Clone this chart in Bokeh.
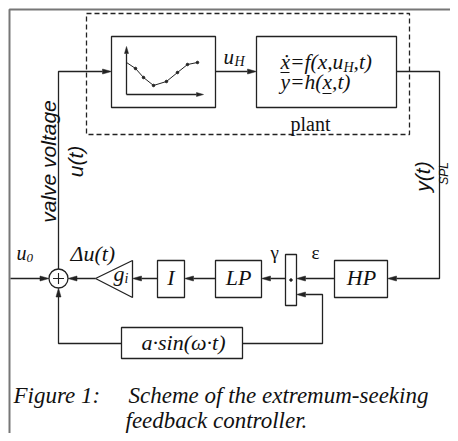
import math
from bokeh.plotting import figure
from bokeh.models import Range1d
from bokeh.core.properties import value
from bokeh.embed import file_html
from bokeh.resources import INLINE

# ---- data: characteristic map drawn in the first block (relative units) ----
map_x = [0.0, 0.117, 0.221, 0.351, 0.519, 0.662, 0.792, 0.922]
map_y = [0.667, 0.542, 0.354, 0.188, 0.271, 0.458, 0.625, 0.667]

# ---- labels ----
block_labels = ["I", "LP", "HP"]
caption_num = "Figure 1:"
caption_lines = ["Scheme of the extremum-seeking", "feedback controller."]
side_labels = ["valve voltage", "u(t)", "y(t)", "SPL"]

W, H = 450, 433
p = figure(width=W, height=H, output_backend="svg", toolbar_location=None,
           x_range=Range1d(0, W), y_range=Range1d(H, 0),
           x_axis_type=None, y_axis_type=None, min_border=0)
p.outline_line_color = None
p.background_fill_color = "white"
p.border_fill_color = "white"

LC = "#222222"
LW = 1.3
SERIF = value("Liberation Serif")
SANS = value("Liberation Sans")

# page border (scan frame)
p.line([9, 9, 460], [445, 9, 9], line_color="#777777", line_width=2)

# dashed plant boundary
p.line([86, 409, 409, 86, 86], [13, 13, 134, 134, 13], line_color=LC,
       line_width=LW, line_dash="5 3")

# blocks (left, top, right, bottom)
boxes = {
    "map": (111, 36, 215, 107),
    "plant": (256, 36, 396, 107),
    "I": (157, 260, 184, 297),
    "LP": (215, 260, 261, 297),
    "mult": (285, 254, 296, 305),
    "HP": (334, 260, 387, 297),
    "sin": (121, 327, 242, 358),
}
for k, (l, t, r, b) in boxes.items():
    p.quad(left=l, right=r, top=t, bottom=b, fill_color="white",
           line_color=LC, line_width=LW)

# gain triangle
p.patch([95, 132, 132], [278, 260, 297], fill_color="white",
        line_color=LC, line_width=LW)
# summing junction
cx, cy, cr = 58, 278, 9.5
p.circle(x=[cx], y=[cy], radius=cr, fill_color="white", line_color=LC,
         line_width=LW)
p.multi_line([[cx - 5.5, cx + 5.5], [cx, cx]], [[cy, cy], [cy - 5.5, cy + 5.5]],
             line_color=LC, line_width=1.1)
# multiplier dot
p.scatter(x=[290.5], y=[279.5], size=2.5, color=LC)

# arrows / wires
segs_x, segs_y = [], []
hx, hy = [], []

def wire(xs, ys):
    segs_x.append(list(xs)); segs_y.append(list(ys))

def arrow(pts, L=9.0, Wd=5.0):
    xs = [q[0] for q in pts]; ys = [q[1] for q in pts]
    x0, y0 = pts[-2]; x1, y1 = pts[-1]
    dx, dy = x1 - x0, y1 - y0
    n = math.hypot(dx, dy)
    ux, uy = dx / n, dy / n
    bx, by = x1 - ux * L, y1 - uy * L
    px, py = -uy, ux
    xs[-1], ys[-1] = bx, by
    wire(xs, ys)
    hx.append([x1, bx + px * Wd / 2, bx - px * Wd / 2])
    hy.append([y1, by + py * Wd / 2, by - py * Wd / 2])

arrow([(58, cy - cr), (58, 71), (111, 71)])
arrow([(215, 71), (256, 71)])
arrow([(396, 71), (439, 71), (439, 278), (387, 278)])
arrow([(334, 278), (296, 278)])
arrow([(285, 278), (261, 278)])
arrow([(215, 278), (184, 278)])
arrow([(157, 278), (132, 278)])
arrow([(95, 278), (cx + cr, 278)])
arrow([(10, 278), (cx - cr, 278)])
arrow([(121, 343), (58, 343), (58, cy + cr)])
arrow([(242, 343), (322, 343), (322, 294), (296, 294)])

# small axes inside characteristic-map block
ox, oy, axw, axh = 126, 94, 77, 48
arrow([(ox, oy), (ox, oy - axh)], L=7, Wd=4)
arrow([(ox, oy), (ox + axw, oy)], L=7, Wd=4)

p.multi_line(segs_x, segs_y, line_color=LC, line_width=LW)
p.patches(hx, hy, fill_color=LC, line_color=LC, line_width=0.5)

mx = [ox + axw * v for v in map_x]
my = [oy - axh * v for v in map_y]
p.line(mx, my, line_color=LC, line_width=1.0)
p.scatter(mx[1:], my[1:], size=2.5, color=LC)

TC = "#111111"

def txt(x, y, s, size, font=SERIF, style="italic", align="left",
        baseline="middle", angle=0.0):
    p.text(x=[x], y=[y], text=[s], text_font=font, text_font_style=style,
           text_font_size=f"{size}px", text_align=align,
           text_baseline=baseline, text_color=TC, angle=angle)

# plant equations
txt(280, 61, "ẋ=f(x,u", 21.5)
txt(343, 67, "H", 14)
txt(353, 61, ",t)", 21.5)
txt(280, 81, "y=h(x,t)", 21.5)
p.multi_line([[280, 289], [322, 331]], [[72, 72], [93, 93]], line_color=TC,
             line_width=1.0)
txt(310, 123, "plant", 20, style="normal", align="center")

# signal labels
txt(223, 56, "u", 21)
txt(234, 61, "H", 14)
txt(16, 252, "u", 20)
txt(26, 257, "0", 13)
txt(70, 253, "Δu(t)", 22)
txt(113, 273, "g", 22)
txt(124, 278, "i", 14)
txt(270, 252, "γ", 19, style="normal")
txt(311, 252, "ε", 19, style="normal")

# block labels
txt(170.5, 277, block_labels[0], 22, align="center")
txt(238, 277, block_labels[1], 22, align="center")
txt(361, 277, block_labels[2], 22, align="center")
txt(183, 342, "a·sin(ω·t)", 22, align="center")

# rotated sans labels
a = math.pi / 2
txt(48, 161, side_labels[0], 21, font=SANS, align="center", angle=a)
txt(75, 161, side_labels[1], 21, font=SANS, align="center", angle=a)
txt(422, 176, side_labels[2], 21, font=SANS, align="center", angle=a)
txt(450, 173, side_labels[3], 12, font=SANS, align="center",
    baseline="bottom", angle=a)

# caption
txt(13, 395, caption_num, 23)
txt(128, 395, caption_lines[0], 23)
txt(125, 420, caption_lines[1], 23)

open("out.html", "w").write(file_html(p, INLINE))
